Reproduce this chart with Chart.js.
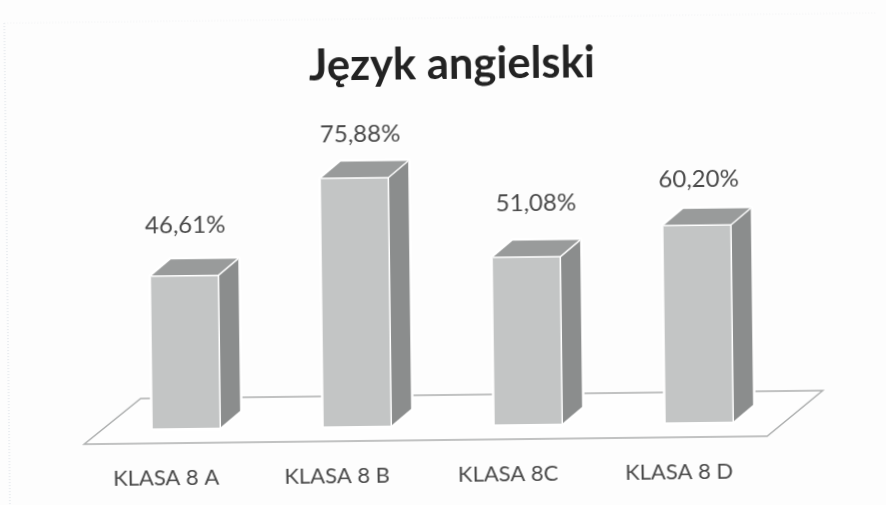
<!DOCTYPE html>
<html lang="pl">
<head>
<meta charset="utf-8">
<title>Język angielski</title>
<script src="https://cdn.jsdelivr.net/npm/chart.js@4"></script>
<style>
html,body{margin:0;padding:0;background:#fdfdfd;overflow:hidden}
#c{display:block;transform:rotate(-0.67deg);transform-origin:443px 252.5px}
</style>
</head>
<body>
<canvas id="c" width="886" height="505"></canvas>
<script>
const chartTitle = "Język angielski";
const categories = ["KLASA 8 A", "KLASA 8 B", "KLASA 8C", "KLASA 8 D"];
const seriesName = "Język angielski";
const values = [46.61, 75.88, 51.08, 60.20];
const valueLabels = ["46,61%", "75,88%", "51,08%", "60,20%"];

const FONT = "Lato, Carlito, 'Open Sans', sans-serif";
const DEPTH = {x: 20, y: -16.5};
const LABEL_NUDGE = [{x: 1, y: -2}, {x: 6, y: 4}, {x: 10, y: -6}, {x: 2, y: 2}];

const scene3d = {
  id: "scene3d",
  afterLayout(chart) {
    if (chart.titleBlock) { chart.titleBlock.left += 13; chart.titleBlock.right += 13; }
  },
  beforeDatasetsDraw(chart) {
    const {ctx, chartArea: a} = chart;
    ctx.save();
    // chart frame (faint dotted scan edge)
    ctx.strokeStyle = "#d5dbe2"; ctx.lineWidth = 1; ctx.setLineDash([1, 2]);
    ctx.beginPath(); ctx.moveTo(7, 505); ctx.lineTo(7, 18); ctx.stroke();
    ctx.strokeStyle = "#f1f2f4";
    ctx.beginPath(); ctx.moveTo(7, 18); ctx.lineTo(880, 18); ctx.stroke();
    ctx.setLineDash([]);
    // floor
    ctx.strokeStyle = "#adafaf"; ctx.lineWidth = 1.5; ctx.fillStyle = "#fefefe";
    ctx.beginPath();
    ctx.moveTo(a.left - 17, a.bottom + 15);
    ctx.lineTo(a.right - 18, a.bottom + 15);
    ctx.lineTo(a.right + 38, a.bottom - 30);
    ctx.lineTo(a.left + 40, a.bottom - 30);
    ctx.closePath(); ctx.fill(); ctx.stroke();
    // side and top faces
    chart.getDatasetMeta(0).data.forEach(bar => {
      const w = bar.width, l = bar.x - w / 2, r = bar.x + w / 2, t = bar.y, b = bar.base;
      ctx.lineJoin = "round";
      ctx.strokeStyle = "#ffffff"; ctx.lineWidth = 5;
      ctx.beginPath();
      ctx.moveTo(l, t); ctx.lineTo(l + DEPTH.x, t + DEPTH.y); ctx.lineTo(r + DEPTH.x, t + DEPTH.y);
      ctx.lineTo(r + DEPTH.x, b + DEPTH.y); ctx.lineTo(r, b); ctx.lineTo(l, b); ctx.closePath();
      ctx.stroke();
      ctx.fillStyle = "#8b8d8d";
      ctx.beginPath();
      ctx.moveTo(r, t); ctx.lineTo(r + DEPTH.x, t + DEPTH.y); ctx.lineTo(r + DEPTH.x, b + DEPTH.y); ctx.lineTo(r, b);
      ctx.closePath(); ctx.fill();
      ctx.fillStyle = "#999b9b";
      ctx.beginPath();
      ctx.moveTo(l, t); ctx.lineTo(l + DEPTH.x, t + DEPTH.y); ctx.lineTo(r + DEPTH.x, t + DEPTH.y); ctx.lineTo(r, t);
      ctx.closePath(); ctx.fill();
    });
    ctx.restore();
  },
  afterDatasetsDraw(chart) {
    const {ctx} = chart;
    ctx.save();
    chart.getDatasetMeta(0).data.forEach((bar, i) => {
      const w = bar.width, l = bar.x - w / 2, r = bar.x + w / 2, t = bar.y, b = bar.base;
      ctx.strokeStyle = "#ffffff"; ctx.lineWidth = 1.5;
      ctx.beginPath();
      ctx.moveTo(l, t); ctx.lineTo(r, t); ctx.lineTo(r, b);
      ctx.moveTo(r, t); ctx.lineTo(r + DEPTH.x, t + DEPTH.y);
      ctx.stroke();
      ctx.fillStyle = "#4a4a4a";
      ctx.font = "24px " + FONT;
      ctx.textAlign = "center"; ctx.textBaseline = "middle";
      ctx.fillText(valueLabels[i], bar.x + LABEL_NUDGE[i].x, t - 48 + LABEL_NUDGE[i].y);
    });
    ctx.restore();
  }
};

new Chart(document.getElementById("c"), {
  type: "bar",
  data: {
    labels: categories,
    datasets: [{
      label: seriesName,
      data: values,
      backgroundColor: "#c3c5c5",
      borderWidth: 0,
      barPercentage: 0.395,
      categoryPercentage: 1
    }]
  },
  options: {
    responsive: false,
    animation: false,
    layout: {padding: {left: 99, right: 103, top: 0, bottom: 16.5}},
    plugins: {
      legend: {display: false},
      tooltip: {enabled: false},
      title: {
        display: true,
        text: chartTitle,
        color: "#232323",
        font: {family: FONT, size: 43.5, weight: "bold", lineHeight: 1.2},
        padding: {top: 39, bottom: 7}
      }
    },
    scales: {
      x: {
        afterFit(axis) { axis.height = 63.5; },
        grid: {display: false, drawTicks: false},
        border: {display: false},
        ticks: {color: "#4a4a4a", font: {family: FONT, size: 22, lineHeight: 1.2}, padding: 36.5, labelOffset: -21, maxRotation: 0, autoSkip: false}
      },
      y: {display: false, min: 0, max: 100}
    }
  },
  plugins: [scene3d]
});
</script>
</body>
</html>
